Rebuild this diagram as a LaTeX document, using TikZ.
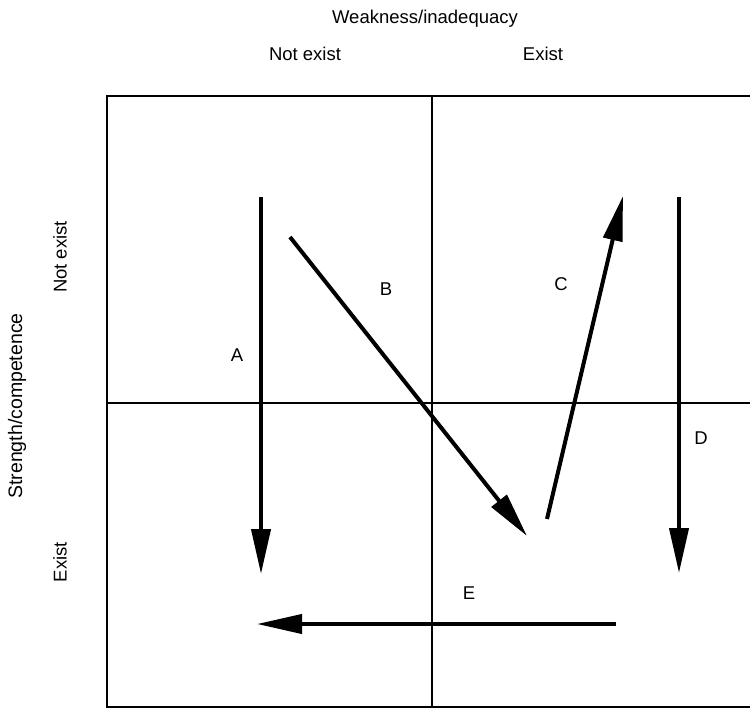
\documentclass[tikz,border=0pt]{standalone}
\usepackage{fontspec}
\setmainfont{Liberation Sans}
\usetikzlibrary{arrows.meta}
\begin{document}
\begin{tikzpicture}[
    x=1pt, y=-1pt,
    every node/.style={font=\fontsize{18.5}{22}\selectfont, inner sep=0pt},
    grid/.style={line width=2.6pt},
    move/.style={line width=4pt, -{Triangle[length=45pt, width=19pt]}}
]
\useasboundingbox (0,0) rectangle (750,709);
% matrix frame
\draw[grid] (750,96) -- (107,96) -- (107,707) -- (750,707);
\draw[grid] (107,403) -- (750,403);
\draw[grid] (432,96) -- (432,707);
% axis labels
\node (weak) at (425,19) {Weakness/inadequacy};
\node (wnot) at (305,54) {Not exist};
\node (wyes) at (543,54) {Exist};
\node[rotate=90, font=\fontsize{19.5}{22}\selectfont] (strong) at (17,406) {Strength/competence};
\node[rotate=90] (snot) at (60,257) {Not exist};
\node[rotate=90] (syes) at (60,562) {Exist};
% movements
\coordinate (a1) at (261,197); \coordinate (a2) at (261,574);
\coordinate (b1) at (290,237); \coordinate (b2) at (527,536);
\coordinate (c1) at (547,519); \coordinate (c2) at (623,196);
\coordinate (d1) at (679,197); \coordinate (d2) at (679,573);
\coordinate (e1) at (616,624); \coordinate (e2) at (257,624);
\draw[move] (a1) -- (a2);
\draw[move] (b1) -- (b2);
\draw[move] (c1) -- (c2);
\draw[move] (d1) -- (d2);
\draw[move] (e1) -- (e2);
\node (A) at (237,355) {A};
\node (B) at (386,289) {B};
\node (C) at (561,284) {C};
\node (D) at (701,438) {D};
\node (E) at (469,593) {E};
\end{tikzpicture}
\end{document}
